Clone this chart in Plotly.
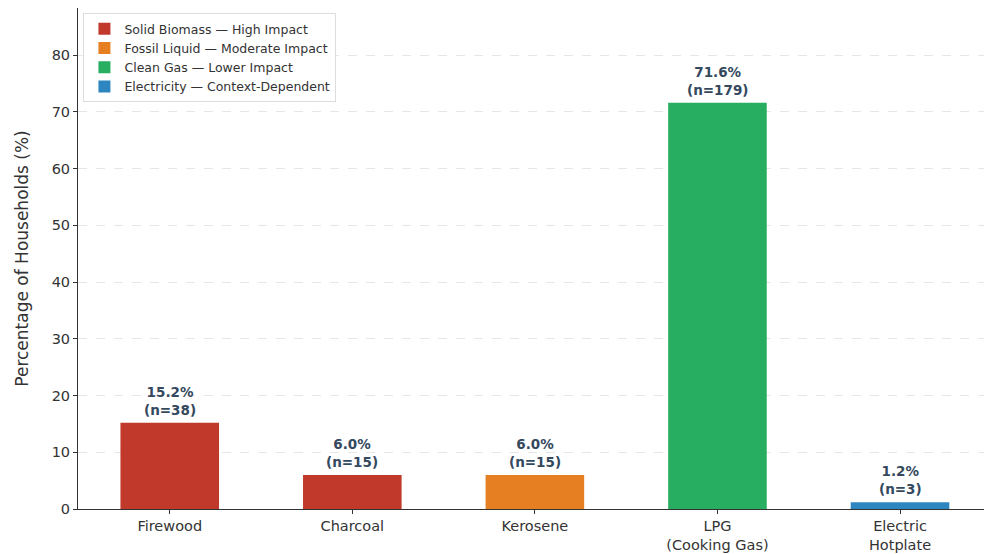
import plotly.graph_objects as go

categories = ["Firewood", "Charcoal", "Kerosene", "LPG", "Electric Hotplate"]
tick_labels = ["Firewood", "Charcoal", "Kerosene", "LPG<br>(Cooking Gas)", "Electric<br>Hotplate"]
percentages = [15.2, 6.0, 6.0, 71.6, 1.2]
counts = [38, 15, 15, 179, 3]
groups = ["Solid Biomass — High Impact", "Solid Biomass — High Impact",
          "Fossil Liquid — Moderate Impact", "Clean Gas — Lower Impact",
          "Electricity — Context-Dependent"]
group_order = ["Solid Biomass — High Impact", "Fossil Liquid — Moderate Impact",
               "Clean Gas — Lower Impact", "Electricity — Context-Dependent"]
group_colors = {"Solid Biomass — High Impact": "#c0392b",
                "Fossil Liquid — Moderate Impact": "#e67e22",
                "Clean Gas — Lower Impact": "#27ae60",
                "Electricity — Context-Dependent": "#2e86c1"}

fig = go.Figure()
for g in group_order:
    xs = [c for c, gg in zip(categories, groups) if gg == g]
    ys = [p for p, gg in zip(percentages, groups) if gg == g]
    fig.add_trace(go.Bar(x=xs, y=ys, name=g, marker=dict(color=group_colors[g], line=dict(width=0)),
                         width=0.54))

for c, p, n in zip(categories, percentages, counts):
    fig.add_annotation(x=c, y=p, text=f"<b>{p:.1f}%<br>(n={n})</b>", showarrow=False,
                       yanchor="bottom", yshift=3, font=dict(size=13.5, color="#34495e",
                                                             family="DejaVu Sans"))

fig.update_layout(
    width=984, height=554,
    margin=dict(l=78, r=0, t=8, b=45),
    plot_bgcolor="white", paper_bgcolor="white",
    barmode="overlay",
    font=dict(family="DejaVu Sans", color="#333333", size=12),
    legend=dict(x=0.006, y=0.99, xanchor="left", yanchor="top",
                bgcolor="rgba(255,255,255,0.9)", bordercolor="#dddddd", borderwidth=1,
                font=dict(size=12.5, color="#333333"), traceorder="normal",
                tracegroupgap=0, itemwidth=30),
    xaxis=dict(type="category", categoryorder="array", categoryarray=categories,
               tickmode="array", tickvals=categories, ticktext=tick_labels,
               range=[-0.5025, 4.46], showline=True, linecolor="#333333", linewidth=1,
               ticks="outside", ticklen=4, tickcolor="#333333", showgrid=False,
               tickfont=dict(size=14.5, color="#333333")),
    yaxis=dict(range=[0, 88.3], dtick=10, showline=True, linecolor="#333333", linewidth=1,
               ticks="outside", ticklen=4, tickcolor="#333333",
               showgrid=True, gridcolor="#e6e6e6", griddash="dash", gridwidth=1,
               zeroline=False, tickfont=dict(size=14.5, color="#333333"),
               title=dict(text="Percentage of Households (%)", font=dict(size=17, color="#333333"),
                          standoff=18)),
)

fig.write_html("out.html")
